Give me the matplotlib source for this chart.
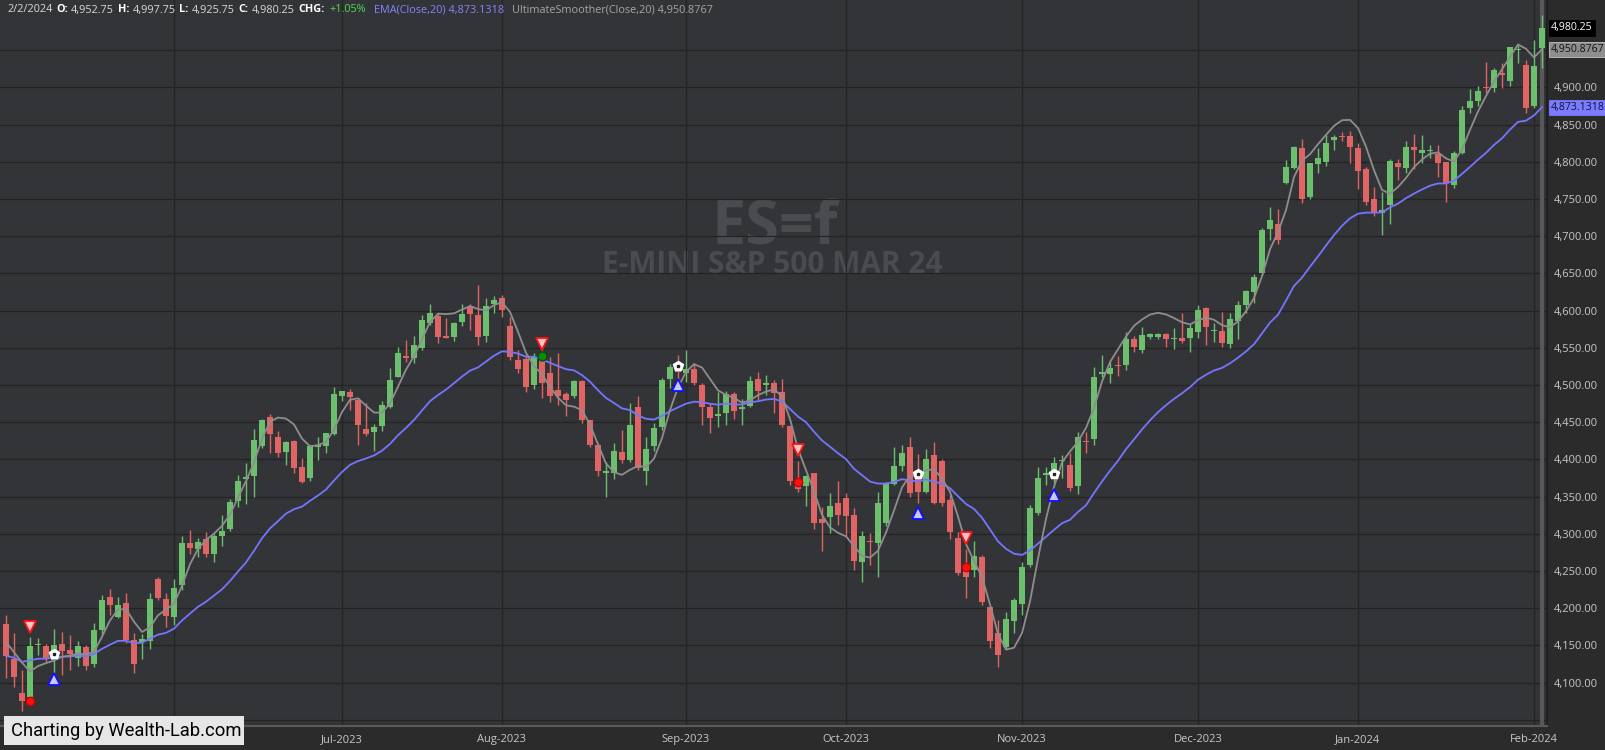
import numpy as np
import pandas as pd
import matplotlib
matplotlib.use('Agg')
import matplotlib.pyplot as plt
import matplotlib.transforms as mtransforms
from matplotlib.patches import Rectangle
from matplotlib.ticker import FixedLocator, FuncFormatter

plt.rcParams['font.family'] = ['Open Sans', 'DejaVu Sans']

# ---- daily bars ES=f, 2 May 2023 .. 2 Feb 2024 ----
opens = [
    4178.9, 4131.4, 4085.7, 4080.3, 4151.0, 4149.3, 4130.5, 4152.0, 4144.0, 4132.7,
    4147.5, 4125.1, 4170.8, 4214.7, 4188.7, 4207.5, 4157.4, 4155.1, 4156.5, 4239.4,
    4212.0, 4188.7, 4231.4, 4287.4, 4279.7, 4292.7, 4273.0, 4297.2, 4306.6, 4344.7,
    4373.8, 4378.3, 4418.2, 4457.6, 4430.7, 4410.6, 4425.4, 4390.4, 4374.7, 4417.3,
    4418.6, 4434.3, 4485.8, 4491.2, 4480.0, 4441.0, 4437.0, 4445.5, 4470.2, 4511.4,
    4539.2, 4536.0, 4550.4, 4583.1, 4592.9, 4566.0, 4565.1, 4585.3, 4605.5, 4594.3,
    4566.0, 4609.0, 4616.7, 4579.4, 4533.7, 4534.6, 4500.2, 4536.0, 4515.8, 4493.4,
    4488.0, 4485.4, 4505.5, 4453.1, 4419.5, 4382.3, 4381.5, 4410.6, 4399.4, 4471.0,
    4385.0, 4418.2, 4444.2, 4508.2, 4524.8, 4516.7, 4521.7, 4500.2, 4470.2, 4459.1,
    4463.0, 4488.0, 4467.4, 4472.0, 4508.3, 4499.7, 4503.3, 4491.2, 4445.1, 4373.0,
    4364.4, 4381.5, 4319.6, 4323.2, 4341.1, 4347.9, 4325.5, 4262.8, 4291.0, 4287.4,
    4315.2, 4367.1, 4391.3, 4417.3, 4383.7, 4356.8, 4406.1, 4398.5, 4345.6, 4294.1,
    4256.0, 4251.5, 4268.6, 4201.3, 4166.4, 4147.6, 4183.4, 4205.8, 4258.2, 4327.7,
    4379.2, 4380.0, 4397.4, 4392.6, 4364.9, 4425.0, 4427.1, 4515.0, 4514.9, 4527.0,
    4527.0, 4561.5, 4547.2, 4564.2, 4564.2, 4568.7, 4561.5, 4562.8, 4562.8, 4571.8,
    4603.2, 4573.1, 4573.2, 4555.3, 4586.6, 4607.7, 4625.6, 4650.2, 4709.4, 4716.5,
    4771.2, 4791.4, 4819.1, 4752.4, 4796.7, 4800.3, 4829.4, 4834.8, 4834.8, 4819.1,
    4790.0, 4750.1, 4730.9, 4742.0, 4798.1, 4791.4, 4820.5, 4812.4, 4814.5, 4810.6,
    4799.4, 4769.0, 4812.4, 4872.0, 4882.3, 4900.2, 4898.9, 4919.9, 4909.2, 4950.3,
    4930.2, 4875.1, 4952.75,
]
highs = [
    4191.0, 4166.3, 4117.0, 4161.9, 4159.6, 4152.0, 4171.7, 4168.6, 4164.0, 4156.0,
    4150.7, 4179.8, 4217.9, 4225.5, 4215.6, 4221.0, 4166.3, 4165.4, 4220.0, 4242.5,
    4220.0, 4238.9, 4297.2, 4305.3, 4295.0, 4303.0, 4299.5, 4325.4, 4346.5, 4379.2,
    4394.9, 4441.0, 4454.0, 4461.2, 4438.4, 4424.5, 4426.0, 4402.5, 4419.0, 4429.8,
    4436.1, 4497.0, 4492.5, 4494.4, 4482.3, 4475.5, 4447.8, 4478.7, 4522.6, 4550.8,
    4560.7, 4566.0, 4594.3, 4609.0, 4596.5, 4589.8, 4585.4, 4609.0, 4609.0, 4634.6,
    4616.7, 4619.8, 4621.1, 4592.0, 4547.2, 4540.5, 4542.7, 4547.2, 4538.2, 4543.6,
    4491.2, 4507.0, 4506.9, 4453.5, 4421.7, 4397.1, 4421.7, 4439.7, 4475.5, 4485.4,
    4430.7, 4448.6, 4509.1, 4528.4, 4540.5, 4547.2, 4530.2, 4502.4, 4475.5, 4491.2,
    4492.5, 4491.2, 4481.0, 4512.7, 4518.1, 4513.6, 4506.9, 4507.8, 4445.5, 4398.0,
    4379.0, 4381.9, 4336.7, 4354.6, 4371.2, 4354.6, 4334.4, 4304.0, 4300.8, 4356.8,
    4370.3, 4417.3, 4419.5, 4429.8, 4407.5, 4414.6, 4424.0, 4400.3, 4352.3, 4303.1,
    4279.3, 4291.0, 4271.7, 4201.8, 4184.3, 4195.5, 4213.4, 4262.7, 4338.9, 4390.4,
    4390.4, 4403.0, 4406.1, 4408.3, 4437.4, 4437.4, 4523.9, 4540.5, 4531.5, 4539.1,
    4571.8, 4566.0, 4578.6, 4570.5, 4570.5, 4570.5, 4576.3, 4596.5, 4582.1, 4607.7,
    4605.4, 4583.0, 4598.7, 4596.5, 4613.1, 4627.8, 4649.3, 4711.6, 4739.8, 4736.7,
    4802.6, 4821.4, 4830.3, 4798.5, 4818.2, 4836.2, 4836.2, 4840.6, 4841.5, 4825.0,
    4793.6, 4766.7, 4760.0, 4803.5, 4803.5, 4828.5, 4837.5, 4836.0, 4822.7, 4822.7,
    4800.0, 4815.1, 4875.1, 4897.5, 4902.0, 4934.7, 4925.8, 4932.5, 4955.0, 4957.1,
    4937.0, 4963.8, 4997.75,
]
lows = [
    4105.9, 4094.7, 4062.4, 4074.5, 4137.2, 4126.0, 4112.6, 4110.3, 4117.0, 4122.4,
    4117.0, 4121.5, 4165.4, 4191.0, 4186.5, 4152.9, 4113.5, 4131.4, 4144.8, 4211.0,
    4175.3, 4177.5, 4225.0, 4273.0, 4268.5, 4269.4, 4262.7, 4284.2, 4304.4, 4335.7,
    4340.2, 4350.0, 4415.0, 4409.0, 4403.9, 4392.7, 4381.5, 4368.0, 4371.0, 4399.4,
    4409.2, 4433.0, 4479.0, 4466.6, 4419.5, 4431.6, 4411.5, 4438.8, 4468.8, 4510.5,
    4531.5, 4529.3, 4547.2, 4580.8, 4557.1, 4562.9, 4559.8, 4580.0, 4574.1, 4554.0,
    4558.4, 4596.5, 4591.1, 4533.7, 4515.8, 4491.2, 4495.0, 4482.2, 4477.7, 4473.3,
    4459.0, 4482.0, 4449.0, 4417.3, 4377.8, 4350.0, 4373.4, 4394.9, 4396.2, 4385.9,
    4365.8, 4412.0, 4440.0, 4495.7, 4506.9, 4504.6, 4500.2, 4446.4, 4435.2, 4443.2,
    4446.4, 4455.0, 4446.4, 4471.1, 4480.0, 4486.7, 4463.0, 4443.3, 4365.8, 4356.8,
    4337.6, 4306.2, 4277.5, 4300.8, 4312.0, 4296.3, 4251.5, 4235.9, 4258.3, 4242.6,
    4310.0, 4365.8, 4385.0, 4350.0, 4341.1, 4354.6, 4340.0, 4338.0, 4292.8, 4244.8,
    4213.5, 4241.7, 4204.5, 4146.2, 4121.6, 4145.0, 4166.4, 4191.0, 4256.0, 4325.4,
    4365.8, 4368.0, 4374.7, 4358.0, 4353.7, 4408.3, 4419.5, 4511.4, 4502.4, 4512.3,
    4520.3, 4545.0, 4542.7, 4561.5, 4561.5, 4551.7, 4548.1, 4556.2, 4545.0, 4562.9,
    4554.0, 4558.4, 4551.7, 4549.4, 4561.5, 4596.5, 4610.8, 4648.0, 4695.0, 4690.0,
    4769.9, 4790.0, 4744.3, 4750.0, 4785.5, 4795.0, 4816.0, 4828.5, 4798.1, 4763.2,
    4742.0, 4727.0, 4701.8, 4716.0, 4775.7, 4785.0, 4791.0, 4798.0, 4805.0, 4780.1,
    4746.6, 4764.5, 4810.6, 4866.0, 4875.0, 4892.2, 4894.4, 4898.9, 4902.0, 4933.4,
    4865.3, 4872.0, 4925.75,
]
closes = [
    4136.3, 4107.2, 4075.8, 4149.3, 4152.6, 4133.6, 4150.7, 4143.0, 4138.0, 4149.3,
    4122.4, 4170.8, 4211.1, 4204.4, 4204.4, 4157.4, 4125.1, 4158.3, 4212.0, 4214.3,
    4189.6, 4226.8, 4287.4, 4281.5, 4288.7, 4273.0, 4297.2, 4304.0, 4343.4, 4371.1,
    4376.8, 4426.3, 4453.1, 4434.3, 4409.2, 4424.0, 4389.1, 4369.8, 4418.2, 4419.6,
    4435.2, 4487.6, 4492.1, 4483.6, 4446.4, 4434.3, 4444.2, 4473.3, 4506.9, 4543.6,
    4536.5, 4553.9, 4587.5, 4596.5, 4565.1, 4563.8, 4584.0, 4595.3, 4595.6, 4565.1,
    4606.4, 4614.4, 4601.0, 4537.3, 4521.7, 4497.0, 4537.3, 4502.4, 4485.4, 4485.4,
    4480.0, 4505.5, 4453.1, 4419.5, 4384.6, 4384.3, 4411.5, 4399.4, 4446.4, 4388.1,
    4414.1, 4442.8, 4506.9, 4524.8, 4518.1, 4521.7, 4503.3, 4471.1, 4455.3, 4461.1,
    4488.0, 4465.6, 4470.5, 4506.0, 4492.1, 4502.4, 4489.0, 4446.4, 4371.2, 4361.0,
    4378.3, 4315.2, 4314.3, 4337.6, 4325.5, 4324.6, 4264.1, 4297.2, 4289.2, 4342.0,
    4367.1, 4391.3, 4408.3, 4355.5, 4356.8, 4400.3, 4342.0, 4342.0, 4303.1, 4248.0,
    4241.7, 4270.3, 4209.0, 4156.5, 4137.3, 4185.2, 4211.2, 4256.0, 4334.2, 4374.7,
    4382.3, 4395.0, 4399.4, 4362.2, 4430.7, 4423.1, 4510.5, 4518.1, 4522.6, 4525.7,
    4561.5, 4551.7, 4567.4, 4568.7, 4568.7, 4561.5, 4562.8, 4559.8, 4576.3, 4601.0,
    4577.7, 4574.0, 4556.2, 4588.4, 4607.7, 4626.5, 4645.7, 4708.5, 4721.9, 4695.0,
    4793.6, 4820.5, 4750.6, 4798.1, 4805.7, 4825.9, 4833.9, 4833.0, 4820.5, 4788.2,
    4746.6, 4730.9, 4735.4, 4801.5, 4793.6, 4820.5, 4816.0, 4816.0, 4815.8, 4799.0,
    4771.2, 4811.5, 4869.8, 4882.3, 4895.7, 4898.9, 4923.5, 4916.8, 4954.9, 4951.6,
    4872.0, 4928.5, 4980.25,
]

# exchange closures missing from the series
holidays = ['2023-05-29', '2023-06-19', '2023-07-04', '2023-09-04', '2023-12-25', '2024-01-01']

# strategy signals (bar index, price)
sell_bars = [3, 67, 99, 120]
sell_marks = [4175, 4555, 4413, 4294]
exit_bars = [3, 99, 120]
exit_marks = [4076, 4370, 4255]
cover_bars = [67]
cover_marks = [4539]
buy_bars = [6, 84, 114, 131]
buy_marks = [4105, 4500, 4328, 4352]
entry_bars = [6, 84, 114, 131]
entry_marks = [4138, 4526, 4381, 4381]

# smoother values on the first four bars (warm-up)
us_seed = [4155, 4141, 4127, 4115]

# last indicator values as printed by the chart
ema_last = 4873.1318
us_last = 4950.8767


# ---- indicators ----
def ultimate_smoother(src, period, seed):
    a1 = np.exp(-1.414 * np.pi / period)
    c2 = 2.0 * a1 * np.cos(1.414 * np.pi / period)
    c3 = -a1 * a1
    c1 = (1.0 + c2 - c3) / 4.0
    us = np.array(src, dtype=float)
    us[:len(seed)] = seed
    for i in range(len(seed), len(src)):
        us[i] = ((1 - c1) * src[i] + (2 * c1 - c2) * src[i - 1]
                 - (c1 + c3) * src[i - 2] + c2 * us[i - 1] + c3 * us[i - 2])
    return us


df = pd.DataFrame({'open': opens, 'high': highs, 'low': lows, 'close': closes})
dates = pd.bdate_range('2023-05-02', '2024-02-02')
dates = dates[~dates.isin(pd.to_datetime(holidays))]
df.index = dates
ema = df['close'].ewm(span=20, adjust=False).mean().values
us = ultimate_smoother(df['close'].values, 20, us_seed)
idx = np.arange(len(df))

# ---- colours ----
BG = '#333437'
PANEL = '#2b2b2c'
GRID = '#242426'
UP = '#6cbf6c'
DOWN = '#e06464'
TXT = '#c8c8c8'

W, H = 1606, 750
PX = mtransforms.IdentityTransform()
fig = plt.figure(figsize=(W / 100, H / 100), dpi=100)
fig.patch.set_facecolor(PANEL)
ax = fig.add_axes([0, 24 / H, 1547 / W, 726 / H])
ax.set_facecolor(BG)

ax.set_xlim(-0.75, -0.75 + 1547 / 8.0)
ax.set_ylim(4041.8, 5017.6)

# last bar highlight
ax.axvspan(idx[-1] - 0.2, idx[-1] + 0.3, color='#585858', zorder=0.6, lw=0)

# candles
up = df['close'] >= df['open']
colors = np.where(up, UP, DOWN)
body_lo = np.minimum(df['open'], df['close'])
body_h = np.maximum(np.abs(df['close'] - df['open']), 1.3)
ax.vlines(idx, df['low'], df['high'], colors=colors, lw=1.0, zorder=2)
ax.bar(idx, body_h, bottom=body_lo, width=0.74, color=colors, lw=0, zorder=2.1)

# indicator lines
ax.plot(idx, ema, color='#7575ff', lw=1.3, zorder=3)
ax.plot(idx, us, color='#8e8e8e', lw=1.3, zorder=3)

# signals
ax.plot(sell_bars, sell_marks, 'v', ms=9, mfc='#ffc4c4', mec='#ff1010', mew=1.3, ls='none', zorder=4)
ax.plot(exit_bars, exit_marks, 'o', ms=6, mfc='#ff1010', mec='#d00000', ls='none', zorder=4)
ax.plot(cover_bars, cover_marks, 'o', ms=6.5, mfc='#0a8a0a', mec='#045004', ls='none', zorder=4)
ax.plot(buy_bars, buy_marks, '^', ms=9, mfc='#c8c8ff', mec='#1010ff', mew=1.3, ls='none', zorder=4)
ax.plot(entry_bars, entry_marks, 'p', ms=7, mfc='white', mec='white', ls='none', zorder=4)
ax.plot(entry_bars, entry_marks, 's', ms=2, mfc='#222222', mec='#222222', ls='none', zorder=4.1)

# watermark
ax.text(0.501, 1 - 243 / 726, 'ES=f', transform=ax.transAxes, ha='center', va='baseline',
        fontsize=44, fontweight='bold', color='#4a4b4f', zorder=0.5)
ax.text(0.4995, 1 - 273 / 726, 'E-MINI S&P 500 MAR 24', transform=ax.transAxes, ha='center',
        va='baseline', fontsize=21.5, fontweight='bold', color='#4a4b4f', zorder=0.5)

# grid / axes
ax.yaxis.set_major_locator(FixedLocator(np.arange(4050, 4951, 50)))
ax.yaxis.set_major_formatter(FuncFormatter(lambda v, p: f'{v:,.2f}' if 4100 <= v <= 4900 else ''))
ax.yaxis.tick_right()
month_pos = np.flatnonzero(np.r_[True, dates.month[1:] != dates.month[:-1]])[1:]
ax.set_xticks(month_pos)
ax.set_xticklabels(dates[month_pos].strftime('%b-%Y'))
ax.grid(True, color=GRID, lw=0.9)
ax.set_axisbelow(True)
ax.tick_params(axis='y', length=0, pad=5, labelcolor=TXT, labelsize=8)
ax.tick_params(axis='x', length=0, pad=6, labelcolor=TXT, labelsize=8)
for s in ('top', 'left'):
    ax.spines[s].set_visible(False)
ax.spines['bottom'].set_color('#5a5a5a')
ax.spines['bottom'].set_linewidth(1.5)
ax.spines['right'].set_color('#1c1c1c')
ax.spines['right'].set_linewidth(1.2)

# right-side value tags
tag = mtransforms.blended_transform_factory(ax.transAxes, ax.transData)
tags = [(closes[-1], f'{closes[-1]:,.2f}', '#000000', 'white', '#000000'),
        (us_last, f'{us_last:,.4f}', '#8e8e8e', '#111111', '#c0c0c0'),
        (ema_last, f'{ema_last:,.4f}', '#7b7bff', '#111133', '#7b7bff')]
for val, label, fc, tc, ec in tags:
    ax.text(1.0025, val, label, transform=tag, ha='left', va='center', fontsize=7.6,
            color=tc, clip_on=False, zorder=6,
            bbox=dict(boxstyle='square,pad=0.22', fc=fc, ec=ec, lw=0.6))

# header line
chg = closes[-1] / closes[-2] - 1
pieces = [
    (dates[-1].strftime('%-m/%-d/%Y'), '#dadada', 'normal', 4),
    ('O:', '#ffffff', 'bold', 3), (f'{opens[-1]:,.2f}', '#dadada', 'normal', 4),
    ('H:', '#ffffff', 'bold', 3), (f'{highs[-1]:,.2f}', '#dadada', 'normal', 4),
    ('L:', '#ffffff', 'bold', 3), (f'{lows[-1]:,.2f}', '#dadada', 'normal', 4),
    ('C:', '#ffffff', 'bold', 3), (f'{closes[-1]:,.2f}', '#dadada', 'normal', 4),
    ('CHG:', '#ffffff', 'bold', 5), (f'{chg:+.2%}', '#4fd94f', 'normal', 8),
    (f'EMA(Close,20) {ema_last:,.4f}', '#8585ff', 'normal', 8),
    (f'UltimateSmoother(Close,20) {us_last:,.4f}', '#a6a6a6', 'normal', 0),
]
renderer = fig.canvas.get_renderer()
x = 7
for txt, col, wt, gap in pieces:
    t = fig.text(x, H - 10, txt, color=col, fontsize=7.8, fontweight=wt, ha='left', va='center',
                 transform=PX, zorder=5)
    x = t.get_window_extent(renderer).x1 + gap

# branding box (covers the first month label, as in the original)
fig.patches.append(Rectangle((4, 5), 240, 29, transform=PX, fc='#e6e6e6', ec='none', zorder=5))
fig.text(11, 19, 'Charting by Wealth-Lab.com', fontsize=13.2, color='black', ha='left', va='center',
         family=['Roboto', 'DejaVu Sans'], transform=PX, zorder=6)

fig.savefig('out.png', dpi=100, facecolor=fig.get_facecolor())
